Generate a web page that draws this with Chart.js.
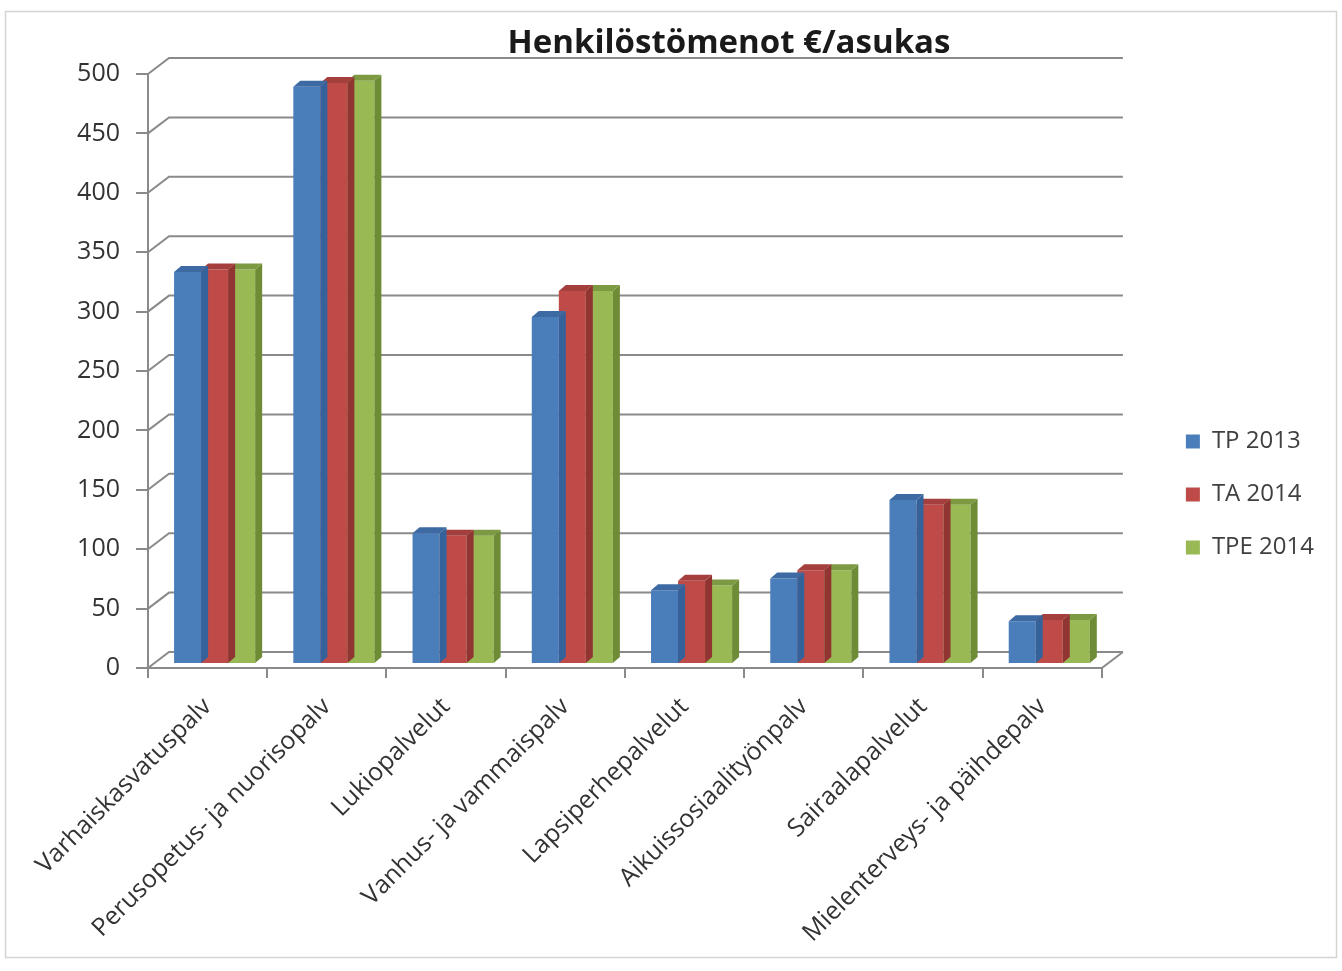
<!DOCTYPE html>
<html><head><meta charset="utf-8">
<script src="https://cdn.jsdelivr.net/npm/chart.js@4.4.1/dist/chart.umd.min.js"></script>
<style>html,body{margin:0;padding:0;background:#fff;overflow:hidden}#wrap{width:1342px;height:971px;position:relative}</style>
</head><body><div id="wrap"><canvas id="c" width="1342" height="971"></canvas></div>
<script>
const chartTitle = "Henkilöstömenot €/asukas";
const categories = ["Varhaiskasvatuspalv","Perusopetus- ja nuorisopalv","Lukiopalvelut","Vanhus- ja vammaispalv","Lapsiperhepalvelut","Aikuissosiaalityönpalv","Sairaalapalvelut","Mielenterveys- ja päihdepalv"];
const seriesNames = ["TP 2013","TA 2014","TPE 2014"];
const tp2013 = [330, 486, 110, 292, 62, 72, 138, 36];
const ta2014 = [332, 489, 108, 314, 70, 79, 134, 37];
const tpe2014 = [332, 491, 108, 314, 66, 79, 134, 37];
const yMin = 0, yMax = 500, yStep = 50;

const frontColors = ['#4a7ebb','#be4b48','#98b954'];
const sideColors = ['#35629a','#913533','#6e8b36'];
const topColors = ['#3d6aa3','#a53f3d','#7d9a42'];
const DEPTH = {dx:7, dy:-6};      // bar 3D depth
const BARSHIFT = {dx:7, dy:-4};   // bar plane relative to front axis
const WALL = {dx:21, dy:-16};     // back wall offset
const LEGEND_SHIFT = -28;
const FONT = '"Open Sans", "Noto Sans", sans-serif';

const threeD = {
  id:'threeD',
  afterLayout(chart){
    if (chart.legend) { chart.legend.top += LEGEND_SHIFT; chart.legend.bottom += LEGEND_SHIFT; }
  },
  beforeDraw(chart){
    const ctx = chart.ctx;
    ctx.save();
    ctx.fillStyle = '#fff';
    ctx.fillRect(0,0,chart.width,chart.height);
    ctx.strokeStyle = '#d4d4d4'; ctx.lineWidth = 1.5;
    ctx.strokeRect(5.5, 11.5, 1331, 946);
    ctx.restore();
  },
  beforeDatasetsDraw(chart){
    const ctx = chart.ctx, y = chart.scales.y, ca = chart.chartArea;
    ctx.save();
    ctx.strokeStyle = '#8a8a8a'; ctx.lineWidth = 2;
    y.ticks.forEach(t => {
      const py = y.getPixelForValue(t.value);
      ctx.beginPath();
      ctx.moveTo(ca.left, py);
      ctx.lineTo(ca.left + WALL.dx, py + WALL.dy);
      ctx.lineTo(ca.right + WALL.dx, py + WALL.dy);
      ctx.stroke();
    });
    const p0 = y.getPixelForValue(0);
    ctx.beginPath();
    ctx.moveTo(ca.right, p0);
    ctx.lineTo(ca.right + WALL.dx, p0 + WALL.dy);
    ctx.stroke();
    ctx.restore();
  },
  beforeDatasetDraw(chart){
    chart.ctx.save();
    chart.ctx.translate(BARSHIFT.dx, BARSHIFT.dy);
  },
  afterDatasetDraw(chart, args){
    const ctx = chart.ctx, i = args.index;
    args.meta.data.forEach(bar => {
      const {x, y, base, width} = bar.getProps(['x','y','base','width'], true);
      const l = x - width/2, r = x + width/2;
      ctx.fillStyle = sideColors[i];
      ctx.beginPath();
      ctx.moveTo(r, y); ctx.lineTo(r+DEPTH.dx, y+DEPTH.dy);
      ctx.lineTo(r+DEPTH.dx, base+DEPTH.dy); ctx.lineTo(r, base); ctx.closePath(); ctx.fill();
      ctx.fillStyle = topColors[i];
      ctx.beginPath();
      ctx.moveTo(l, y); ctx.lineTo(l+DEPTH.dx, y+DEPTH.dy);
      ctx.lineTo(r+DEPTH.dx, y+DEPTH.dy); ctx.lineTo(r, y); ctx.closePath(); ctx.fill();
    });
    ctx.restore();
  },
  afterDraw(chart){
    const ctx = chart.ctx;
    ctx.save();
    ctx.font = 'bold 33px ' + FONT;
    ctx.fillStyle = '#1a1a1a';
    ctx.textAlign = 'center'; ctx.textBaseline = 'alphabetic';
    ctx.fillText(chartTitle, 729, 53);
    ctx.restore();
  }
};

function build(){
  new Chart(document.getElementById('c'), {
    type:'bar',
    data:{
      labels: categories,
      datasets:[
        {label: seriesNames[0], data: tp2013, backgroundColor: frontColors[0]},
        {label: seriesNames[1], data: ta2014, backgroundColor: frontColors[1]},
        {label: seriesNames[2], data: tpe2014, backgroundColor: frontColors[2]}
      ]
    },
    options:{
      responsive:false, animation:false,
      datasets:{bar:{categoryPercentage:0.68, barPercentage:1.0, borderWidth:0}},
      layout:{padding:{left:0, top:74, right:18, bottom:0}},
      plugins:{
        title:{display:false},
        tooltip:{enabled:false},
        legend:{
          position:'right', align:'center',
          labels:{boxWidth:14, boxHeight:14, padding:29, color:'#404040', font:{family:FONT, size:24}}
        }
      },
      scales:{
        x:{
          grid:{drawOnChartArea:false, drawTicks:true, tickLength:10, color:'#8a8a8a', lineWidth:2},
          border:{display:true, color:'#8a8a8a', width:2},
          ticks:{minRotation:45, maxRotation:45, autoSkip:false, padding:14, color:'#333', font:{family:FONT, size:25}},
          afterFit(s){ s.height = 971 - 668; }
        },
        y:{
          min:yMin, max:yMax,
          grid:{drawOnChartArea:false, drawTicks:true, tickLength:12, color:'#8a8a8a', lineWidth:2},
          border:{display:true, color:'#8a8a8a', width:2},
          ticks:{stepSize:yStep, padding:16, color:'#333', font:{family:FONT, size:25}},
          afterFit(s){ s.width = 148; }
        },
        spacer:{
          position:'right', display:true,
          grid:{display:false}, border:{display:false}, ticks:{display:false},
          afterFit(s){ s.width = 55; }
        }
      }
    },
    plugins:[threeD]
  });
}
const fl = document.fonts ? Promise.all([document.fonts.load('25px "Open Sans"'), document.fonts.load('bold 33px "Open Sans"')]) : Promise.resolve();
Promise.race([fl, new Promise(r=>setTimeout(r,1500))]).then(build, build);
</script></body></html>
